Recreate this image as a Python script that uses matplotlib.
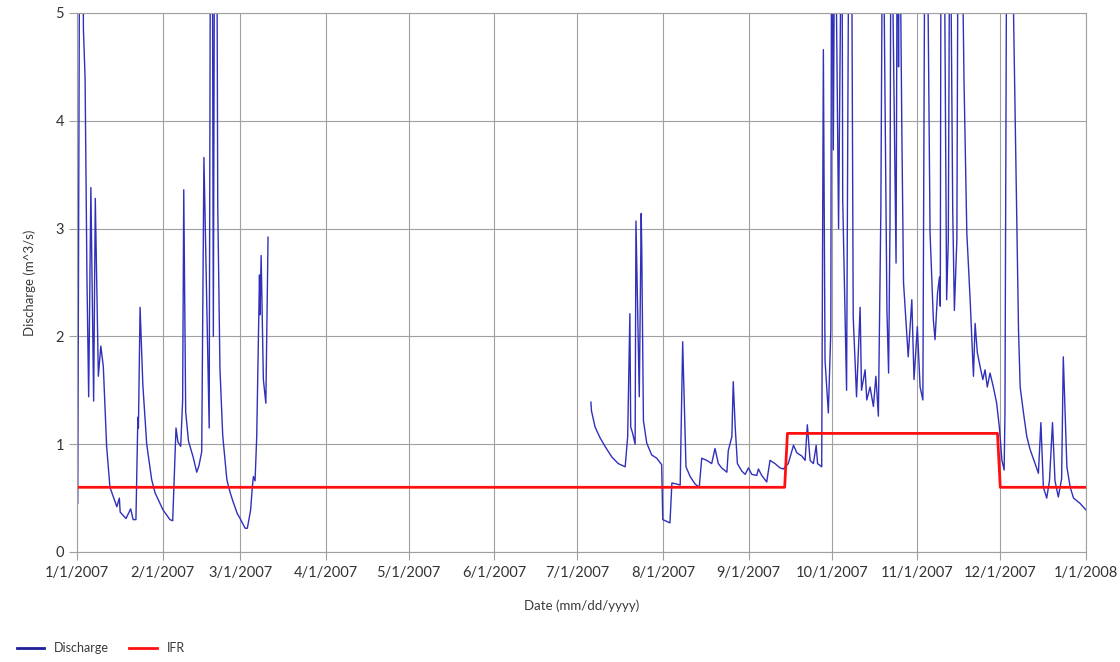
"""
Discharge vs. instream flow requirement (IFR), year 2007.
"""

import datetime as dt

import numpy as np
import matplotlib
matplotlib.use("Agg")
import matplotlib.pyplot as plt
import matplotlib.dates as mdates

# --- data (day offset from 1/1/2007, discharge m^3/s) ---
# values above 5 run off the top of the plot
day_winter = [0.25, 1.0, 2.1, 2.3, 2.9, 3.6, 4.2, 5.0, 6.0, 6.6, 7.7, 8.6, 9.5,
              10.7, 11.9, 14.4, 15.3, 15.6, 17.7, 19.4, 20.3, 21.3, 22.0, 22.2,
              22.8, 23.8, 25.2, 27.0, 28.2, 31.1, 33.6, 34.6, 35.8, 36.5, 37.5,
              38.2, 38.6, 39.3, 40.3, 42.0, 43.3, 44.1, 45.1, 45.9, 47.8, 48.3,
              48.9, 49.3, 49.8, 50.5, 50.9, 51.7, 52.7, 54.2, 55.4, 56.4, 57.9,
              59.2, 60.8, 61.6, 62.8, 63.4, 63.8, 64.4, 65.0, 65.6, 66.0, 66.2,
              66.6, 67.4, 68.3, 69.1]
q_winter = [0.45, 6.5, 6.0, 4.85, 4.4, 2.5, 1.44, 3.38, 1.40, 3.28, 1.63, 1.91,
            1.72, 0.98, 0.60, 0.42, 0.50, 0.37, 0.31, 0.40, 0.30, 0.30, 1.25,
            1.15, 2.27, 1.55, 1.00, 0.67, 0.55, 0.39, 0.30, 0.29, 1.15, 1.02,
            0.98, 1.41, 3.36, 1.30, 1.03, 0.88, 0.74, 0.80, 0.93, 3.66, 1.15,
            6.5, 6.5, 2.00, 6.5, 6.5, 3.20, 1.70, 1.08, 0.67, 0.55, 0.47, 0.36,
            0.30, 0.22, 0.22, 0.39, 0.60, 0.70, 0.66, 1.07, 1.97, 2.57, 2.20,
            2.75, 1.60, 1.38, 2.92]

day_summer = [185.9, 186.1, 187.4, 189.2, 191.0, 193.5, 195.8, 198.3, 199.2,
              199.6, 200.0, 200.3, 201.0, 201.9, 202.2, 203.4, 204.1, 204.3,
              204.9, 206.1, 207.9, 209.7, 211.5, 211.9, 214.5, 215.2, 217.0,
              218.2, 219.1, 220.3, 221.8, 223.6, 225.1, 226.0, 227.8, 229.6,
              230.8, 232.0, 233.2, 235.1, 235.6, 236.9, 237.4, 238.1, 238.9,
              240.5, 241.7, 242.9, 244.1, 245.9, 246.5, 247.7, 249.5, 250.7,
              252.5, 254.3, 255.5, 257.3, 259.2, 260.4, 262.2, 263.4, 264.2,
              265.2, 266.4, 267.4, 267.9, 269.4, 270.0, 270.6, 271.8, 272.7,
              273.0, 273.6, 274.2, 275.5, 276.7, 277.0, 278.4, 279.3, 280.2,
              280.8, 282.0, 283.3, 283.8, 285.1, 285.7, 286.9, 288.1, 289.0,
              289.9, 290.8, 291.5, 293.0, 293.6, 294.1, 294.5, 296.0, 296.3,
              296.8, 297.2, 297.5, 298.4, 299.0, 300.7, 302.0, 302.8, 304.0,
              305.0, 306.0, 306.8, 307.4, 308.6, 309.8, 310.4, 311.3, 312.0,
              312.3, 312.6, 313.7, 314.6, 315.2, 315.8, 316.8, 317.4, 318.3,
              318.8, 319.8, 320.9, 321.9, 323.1, 324.3, 324.9, 325.7, 326.7,
              327.7, 328.5, 329.3, 330.3, 331.5, 332.7, 333.7, 334.6, 335.4,
              335.7, 336.4, 337.9, 339.4, 340.6, 341.2, 342.4, 343.6, 344.8,
              346.6, 347.8, 348.7, 349.6, 350.8, 351.8, 352.9, 353.8, 355.0,
              356.2, 356.8, 358.1, 359.3, 360.5, 362.9, 365.0]
q_summer = [1.39, 1.31, 1.16, 1.06, 0.98, 0.88, 0.82, 0.79, 1.07, 1.66, 2.21,
            1.16, 1.10, 1.00, 3.07, 1.44, 3.14, 2.80, 1.22, 1.01, 0.90, 0.87,
            0.81, 0.30, 0.27, 0.64, 0.63, 0.62, 1.95, 0.79, 0.70, 0.63, 0.60,
            0.87, 0.85, 0.82, 0.96, 0.82, 0.78, 0.74, 0.94, 1.07, 1.58, 1.16,
            0.82, 0.75, 0.72, 0.78, 0.72, 0.71, 0.77, 0.71, 0.65, 0.85, 0.82,
            0.78, 0.77, 0.82, 0.99, 0.92, 0.89, 0.85, 1.18, 0.85, 0.82, 0.99,
            0.82, 0.79, 4.66, 1.78, 1.29, 2.06, 6.5, 3.73, 6.5, 3.00, 6.5,
            3.27, 1.50, 6.5, 6.0, 2.18, 1.44, 2.27, 1.50, 1.69, 1.41, 1.53,
            1.35, 1.63, 1.26, 3.17, 6.5, 2.24, 1.66, 3.02, 6.5, 3.30, 2.68,
            6.5, 4.50, 6.5, 3.88, 2.50, 1.81, 2.34, 1.60, 2.09, 1.53, 1.41,
            6.5, 6.5, 2.96, 2.15, 1.97, 2.40, 2.55, 2.28, 6.5, 6.0, 2.34, 2.90,
            6.5, 3.17, 2.24, 2.90, 6.5, 6.5, 4.35, 2.96, 2.34, 1.63, 2.12,
            1.85, 1.72, 1.60, 1.69, 1.53, 1.66, 1.53, 1.38, 1.15, 0.85, 0.76,
            1.29, 6.5, 6.5, 4.00, 2.06, 1.53, 1.29, 1.07, 0.95, 0.82, 0.73,
            1.20, 0.60, 0.50, 0.66, 1.20, 0.66, 0.51, 0.68, 1.81, 0.79, 0.60,
            0.50, 0.45, 0.39]

ifr_dates = ["2007-01-01", "2007-09-14", "2007-09-15", "2007-11-30",
             "2007-12-01", "2008-01-01"]
ifr_values = [0.6, 0.6, 1.1, 1.1, 0.6, 0.6]

month_ticks = [dt.datetime(2007, m, 1) for m in range(1, 13)] + [dt.datetime(2008, 1, 1)]
tick_labels = [f"{d.month}/1/{d.year}" for d in month_ticks]

# --- build series ---
t0 = mdates.date2num(dt.datetime(2007, 1, 1))
x_q = np.concatenate([t0 + np.array(day_winter), [np.nan], t0 + np.array(day_summer)])
y_q = np.concatenate([q_winter, [np.nan], q_summer])
x_ifr = mdates.datestr2num(ifr_dates)

plt.rcParams["font.family"] = ["Lato", "DejaVu Sans"]

fig = plt.figure(figsize=(11.2, 6.62), dpi=100)
ax = fig.add_axes([0.0688, 0.1662, 0.9008, 0.8142])

grid_c = "#a0a0a0"
line_q, = ax.plot(x_q, y_q, color="#3030bb", linewidth=1.0, label="Discharge")
line_ifr, = ax.plot(x_ifr, ifr_values, color="#ff1010", linewidth=2.0, label="IFR")

ax.set_xlim(mdates.date2num(month_ticks[0]), mdates.date2num(month_ticks[-1]))
ax.set_ylim(0, 5)
ax.set_xticks(mdates.date2num(month_ticks))
ax.set_xticklabels(tick_labels)
ax.set_yticks(range(6))

ax.grid(True, color=grid_c, linewidth=0.8)
ax.set_axisbelow(True)
for s in ax.spines.values():
    s.set_color(grid_c)
    s.set_linewidth(0.8)
ax.tick_params(axis="both", colors=grid_c, labelcolor="#333333", labelsize=10.5,
               length=6, width=0.8)
ax.tick_params(axis="x", pad=4)

ax.set_xlabel("Date (mm/dd/yyyy)", fontsize=9.5, color="#3a3a3a", labelpad=14)
ax.set_ylabel("Discharge (m^3/s)", fontsize=9.5, color="#3a3a3a", labelpad=14)

leg = fig.legend(handles=[line_q, line_ifr], loc="lower left", bbox_to_anchor=(0.005, -0.005),
                 ncol=2, frameon=False, fontsize=9, handlelength=2.2, columnspacing=1.6,
                 labelcolor="#3a3a3a")
for h in leg.legend_handles:
    h.set_linewidth(2.0)
leg.legend_handles[0].set_color("#1f1f99")

fig.savefig("out.png", dpi=100)
